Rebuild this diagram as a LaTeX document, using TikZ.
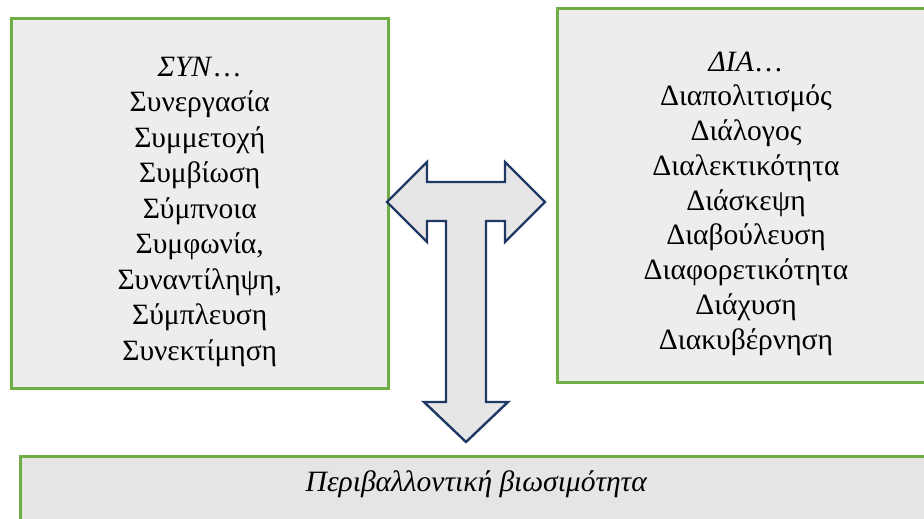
\documentclass[tikz,border=0pt]{standalone}
\usepackage{fontspec}
\setmainfont{Liberation Serif}
\usetikzlibrary{positioning}
\definecolor{boxgreen}{HTML}{70AD47}
\definecolor{boxgray}{HTML}{EDEDED}
\definecolor{basegray}{HTML}{E5E5E5}
\definecolor{arrownavy}{HTML}{203864}
\definecolor{arrowgray}{HTML}{E7E6E6}
\tikzset{
  termbox/.style={draw=boxgreen, line width=3pt, fill=boxgray, inner sep=0pt},
  termlist/.style={inner sep=0pt, align=center},
}
\begin{document}
\begin{tikzpicture}[x=1pt, y=-1pt, line join=miter]
\useasboundingbox (0,0) rectangle (924,519);
\clip (0,0) rectangle (924,519);
\node[termbox, minimum width=376.5pt, minimum height=370pt] (syn) at (199.75,203.5) {};
\node[termbox, minimum width=377pt, minimum height=373pt] (dia) at (746,195.5) {};
\node[termbox, fill=basegray, minimum width=913pt, minimum height=120pt] (env) at (476.5,516) {};
\node[termlist, anchor=north, font=\fontsize{29.5}{35.5}\selectfont] (synlist) at ([yshift=-39.5pt]syn.north)
  {\textit{ΣΥΝ}…\\Συνεργασία\\Συμμετοχή\\Συμβίωση\\Σύμπνοια\\Συμφωνία,\\Συναντίληψη,\\Σύμπλευση\\Συνεκτίμηση};
\node[termlist, anchor=north, font=\fontsize{29.5}{34.75}\selectfont] (dialist) at ([yshift=-44pt]dia.north)
  {\textit{ΔΙΑ}…\\Διαπολιτισμός\\Διάλογος\\Διαλεκτικότητα\\Διάσκεψη\\Διαβούλευση\\Διαφορετικότητα\\Διάχυση\\Διακυβέρνηση};
\node[termlist, anchor=base, font=\fontsize{29.5}{32}\selectfont] (envtext) at ([yshift=-37pt]env.north)
  {\textit{Περιβαλλοντική βιωσιμότητα}};
\draw[draw=arrownavy, fill=arrowgray, line width=2.4pt] (387,202) -- (427,162) -- (427,182) -- (505,182) -- (505,162) -- (545,202) -- (505,242) -- (505,221) -- (486,221) -- (486,402) -- (508,402) -- (466,442) -- (424,402) -- (446,402) -- (446,221) -- (427,221) -- (427,242) -- cycle;
\end{tikzpicture}
\end{document}
